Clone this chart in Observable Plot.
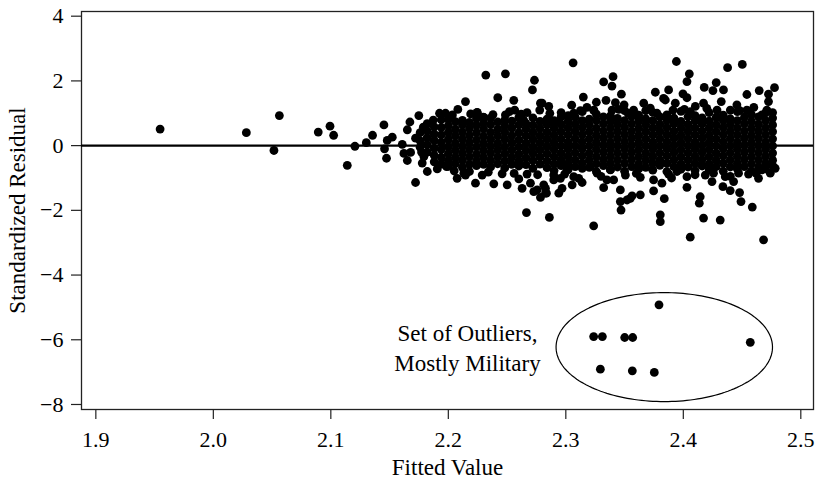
<!DOCTYPE html>
<html>
<head>
<meta charset="utf-8">
<script src="https://cdn.jsdelivr.net/npm/d3@7"></script>
<script src="https://cdn.jsdelivr.net/npm/@observablehq/plot@0.6"></script>
<style>
  body { margin: 0; background: #fff; }
  #chart svg { display: block; }
  #chart svg text { font-family: 'Liberation Serif', 'Times New Roman', Times, serif !important; }
</style>
</head>
<body>
<div id="chart"></div>
<script>
// ---- data (fitted value, standardized residual) ----
const leftTail = [
  [1.9547,0.51],[2.0281,0.40],[2.0562,0.93],[2.0516,-0.15],[2.0893,0.42],[2.0993,0.60],
  [2.1024,0.32],[2.1140,-0.61],[2.1205,-0.02],[2.1302,0.09],[2.1355,0.32],[2.1452,0.64],
  [2.1457,-0.10],[2.1474,-0.39],[2.1480,0.16],[2.1523,0.26],[2.1608,0.04],[2.1673,0.73],
  [2.1651,0.49],[2.1749,0.93],[2.1787,0.57],[2.1721,0.23],[2.1622,-0.24],[2.1679,-0.21],
  [2.1651,-0.46],[2.1721,-1.14],[2.1778,-0.54],[2.1821,-0.80],[2.1906,-0.72],[2.1925,1.00],
  [2.1872,0.79],[2.1792,-0.34],[2.1772,-0.20]
];
const upperScatter = [
  [2.2081,1.12],[2.2146,1.36],[2.2246,1.02],[2.2302,0.87],[2.2319,2.18],[2.2486,2.22],
  [2.2421,1.48],[2.2557,1.40],[2.2565,1.10],[2.2486,0.95],[2.2733,2.02],[2.2716,1.72],
  [2.2784,1.31],[2.2778,1.10],[2.2855,1.21],[2.2864,1.00],[2.2670,1.02],[2.2883,0.76],
  [2.2641,0.79],[2.2939,0.74],[2.3062,2.56],[2.3322,1.97],[2.3402,2.13],[2.3393,1.84],
  [2.3149,1.50],[2.3260,1.34],[2.3050,1.25],[2.3124,1.08],[2.3342,1.40],[2.3422,1.33],
  [2.3473,1.59],[2.3496,1.26],[2.3577,1.10],[2.3240,1.08],[2.2245,1.03],[2.2297,0.88],
  [2.1976,1.00],[2.3941,2.60],[2.4051,2.22],[2.4031,1.98],[2.4377,2.41],[2.4502,2.51],
  [2.3762,1.65],[2.3875,1.72],[2.3832,1.46],[2.3997,1.60],[2.4031,1.48],[2.4178,1.80],
  [2.4280,1.95],[2.4252,1.70],[2.4342,1.72],[2.4323,1.36],[2.4541,1.58],[2.4646,1.70],
  [2.4776,1.79],[2.4725,1.59],[2.4725,1.36],[2.4711,1.10],[2.4456,1.26],[2.4172,1.31],
  [2.4102,1.21],[2.3663,1.31],[2.3932,1.31],[2.3067,1.00],[2.3237,1.10],[2.3393,1.10],
  [2.3606,0.95],[2.3719,1.16],[2.3776,1.00],[2.3847,1.41],[2.3912,1.10],[2.4009,1.12],
  [2.4287,1.10],[2.4400,1.10],[2.4541,1.10],[2.4669,0.95],[2.2798,1.31],
  [2.2035,0.95],[2.2190,0.98],[2.2380,0.96],[2.2520,1.05],[2.2620,0.97],[2.2960,1.02],
  [2.3180,1.18],[2.3450,1.12],[2.3530,1.00],[2.3680,1.08],[2.4060,1.05],[2.4200,1.15],
  [2.4480,1.08],[2.4600,1.18],[2.4760,1.02]
];
const lowerScatter = [
  [2.1985,-0.65],[2.2075,-1.01],[2.2146,-0.91],[2.2132,-0.85],[2.2231,-1.16],[2.2288,-0.91],
  [2.2387,-1.18],[2.2501,-1.21],[2.2458,-0.87],[2.2600,-1.03],[2.2628,-1.32],[2.2665,-2.07],
  [2.2699,-1.16],[2.2727,-1.42],[2.2756,-1.37],[2.2784,-1.60],[2.2835,-1.47],[2.2860,-2.22],
  [2.2940,-1.47],[2.2954,-1.01],[2.3011,-0.75],[2.3054,-1.21],[2.3110,-1.01],[2.3139,-1.14],
  [2.3237,-2.48],[2.3266,-0.85],[2.3322,-1.30],[2.3350,-1.06],[2.3379,-0.75],[2.3407,-1.06],
  [2.3464,-1.37],[2.3464,-1.73],[2.3470,-1.99],[2.3521,-1.68],[2.3549,-1.63],[2.3564,-1.55],
  [2.3634,-1.52],[2.3747,-1.40],[2.3838,-1.64],[2.3804,-2.14],[2.3804,-2.35],[2.3818,-1.16],
  [2.4031,-1.29],[2.4059,-2.83],[2.4144,-1.58],[2.4136,-1.78],[2.4172,-2.24],[2.4314,-2.30],
  [2.4244,-1.11],[2.4337,-1.27],[2.4399,-1.39],[2.4428,-1.11],[2.4479,-1.45],[2.4491,-1.73],
  [2.4587,-1.90],[2.4683,-2.91],[2.4640,-1.01],[2.4555,-0.88],[2.4740,-0.85],[2.4782,-0.70],
  [2.4257,-0.85],[2.4187,-0.91],[2.4031,-0.96],[2.3946,-0.80],[2.3875,-0.88],[2.3747,-1.06],
  [2.3634,-0.98],[2.3507,-0.91],[2.4357,-0.96],[2.4470,-0.85],[2.4669,-0.75],[2.2827,-1.32],
  [2.2897,-1.06],[2.2827,-1.47],[2.2812,-1.21],[2.2897,-0.91],[2.2968,-1.32],[2.3067,-0.96],
  [2.3209,-0.65],[2.2670,-0.88],
  [2.2050,-0.78],[2.2180,-0.80],[2.2340,-0.82],[2.2560,-0.86],[2.2760,-0.90],[2.2990,-0.88],
  [2.3300,-0.95],[2.3600,-0.86],[2.3900,-1.00],[2.4100,-0.90],[2.4400,-0.95],[2.4620,-0.86]
];
// dense core of the cloud: [fitted, residuals stacked at that fitted value]
const coreColumns = [
  [2.176,[0.40,0.15,-0.05]],
  [2.182,[0.68,0.46,0.25,0.03,-0.20]],
  [2.188,[0.58,0.36,0.16,-0.08,-0.30,-0.50]],
  [2.194,[0.80,0.56,0.33,0.10,-0.12,-0.36,-0.57]],
  [2.200,[0.82,0.62,0.41,0.19,-0.03,-0.25,-0.46,-0.64]],
  [2.206,[0.74,0.51,0.30,0.08,-0.14,-0.36,-0.56]],
  [2.212,[0.78,0.64,0.42,0.20,-0.02,-0.24,-0.45,-0.67]],
  [2.218,[0.72,0.53,0.31,0.09,-0.13,-0.35,-0.57]],
  [2.224,[0.84,0.63,0.40,0.18,-0.04,-0.26,-0.47,-0.62]],
  [2.230,[0.70,0.52,0.29,0.07,-0.15,-0.36,-0.58]],
  [2.236,[0.85,0.65,0.41,0.19,-0.02,-0.23,-0.46,-0.66]],
  [2.242,[0.73,0.51,0.30,0.08,-0.13,-0.35,-0.56]],
  [2.248,[0.79,0.62,0.42,0.20,-0.03,-0.25,-0.47,-0.69]],
  [2.254,[0.76,0.54,0.31,0.09,-0.14,-0.36,-0.58]],
  [2.260,[0.87,0.64,0.40,0.18,-0.04,-0.26,-0.48,-0.63]],
  [2.266,[0.69,0.52,0.30,0.08,-0.15,-0.37,-0.59]],
  [2.272,[0.86,0.63,0.41,0.19,-0.03,-0.24,-0.46,-0.70]],
  [2.278,[0.75,0.53,0.31,0.09,-0.13,-0.35,-0.57]],
  [2.284,[0.82,0.65,0.42,0.20,-0.02,-0.25,-0.47,-0.68]],
  [2.290,[0.77,0.54,0.32,0.10,-0.12,-0.34,-0.56,-0.77]],
  [2.296,[0.89,0.66,0.43,0.21,-0.01,-0.23,-0.45,-0.62]],
  [2.302,[0.93,0.76,0.55,0.33,0.11,-0.11,-0.33,-0.55,-0.74]],
  [2.308,[0.88,0.66,0.44,0.22,0.00,-0.22,-0.44,-0.65]],
  [2.314,[1.05,0.77,0.56,0.34,0.12,-0.10,-0.32,-0.54,-0.70]],
  [2.320,[0.82,0.65,0.43,0.21,-0.01,-0.23,-0.45,-0.67]],
  [2.326,[0.97,0.78,0.54,0.32,0.10,-0.12,-0.34,-0.56,-0.80]],
  [2.332,[0.89,0.67,0.45,0.23,0.01,-0.21,-0.43,-0.62]],
  [2.338,[0.92,0.75,0.55,0.33,0.11,-0.11,-0.33,-0.55,-0.74]],
  [2.344,[0.84,0.66,0.44,0.22,0.00,-0.22,-0.44,-0.66]],
  [2.350,[1.08,0.77,0.56,0.34,0.12,-0.10,-0.32,-0.54,-0.79]],
  [2.356,[0.90,0.67,0.45,0.23,0.01,-0.21,-0.43,-0.65]],
  [2.362,[0.94,0.76,0.54,0.32,0.10,-0.12,-0.34,-0.56,-0.72]],
  [2.368,[0.83,0.65,0.43,0.21,-0.01,-0.23,-0.45,-0.67]],
  [2.374,[1.03,0.77,0.55,0.33,0.11,-0.11,-0.33,-0.55,-0.76]],
  [2.380,[0.89,0.66,0.44,0.22,0.00,-0.22,-0.44,-0.61]],
  [2.386,[0.95,0.78,0.56,0.34,0.12,-0.10,-0.32,-0.54,-0.80]],
  [2.392,[0.85,0.67,0.45,0.23,0.01,-0.21,-0.43,-0.65]],
  [2.398,[1.06,0.75,0.54,0.32,0.10,-0.12,-0.34,-0.56,-0.73]],
  [2.404,[0.90,0.66,0.44,0.22,0.00,-0.22,-0.44,-0.66]],
  [2.410,[0.93,0.77,0.55,0.33,0.11,-0.11,-0.33,-0.55,-0.77]],
  [2.416,[0.86,0.67,0.45,0.23,0.01,-0.21,-0.43,-0.63]],
  [2.422,[1.02,0.76,0.54,0.32,0.10,-0.12,-0.34,-0.56,-0.75]],
  [2.428,[0.87,0.65,0.43,0.21,-0.01,-0.23,-0.45,-0.65]],
  [2.434,[0.94,0.78,0.56,0.34,0.12,-0.10,-0.32,-0.54,-0.79]],
  [2.440,[0.83,0.66,0.44,0.22,0.00,-0.22,-0.44,-0.66]],
  [2.446,[1.05,0.77,0.55,0.33,0.11,-0.11,-0.33,-0.55,-0.72]],
  [2.452,[0.88,0.67,0.45,0.23,0.01,-0.21,-0.43,-0.65]],
  [2.458,[0.96,0.75,0.54,0.32,0.10,-0.12,-0.34,-0.56,-0.78]],
  [2.464,[0.89,0.66,0.44,0.22,0.00,-0.22,-0.44,-0.66]],
  [2.470,[1.01,0.77,0.55,0.33,0.11,-0.11,-0.33,-0.55,-0.72]],
  [2.476,[0.85,0.64,0.43,0.21,-0.01,-0.23,-0.45,-0.62]]
];
const outliers = [
  [2.3793,-4.92],[2.3237,-5.90],[2.3311,-5.90],[2.3501,-5.93],[2.3569,-5.93],
  [2.4570,-6.08],[2.3294,-6.91],[2.3566,-6.96],[2.3753,-7.01]
];
const ellipseCenter = [2.3838, -6.227];
const ellipseRadii = [0.0921, 1.684];
const noteLines = ["Set of Outliers,", "Mostly Military"];
const xTicks = [1.9, 2.0, 2.1, 2.2, 2.3, 2.4, 2.5];
const yTicks = [-8, -6, -4, -2, 0, 2, 4];
const xLabel = "Fitted Value";
const yLabel = "Standardized Residual";

// ---- build tables ----
const toRow = ([fitted, residual]) => ({fitted, residual});
const points = [
  ...leftTail.map(toRow),
  ...coreColumns.flatMap(([f, rs]) => rs.map(r => ({fitted: f, residual: r}))),
  ...upperScatter.map(toRow),
  ...lowerScatter.map(toRow),
  ...outliers.map(toRow)
];
const ellipse = d3.range(0, 361, 2).map(a => {
  const t = a * Math.PI / 180;
  return {x: ellipseCenter[0] + ellipseRadii[0] * Math.cos(t),
          y: ellipseCenter[1] + ellipseRadii[1] * Math.sin(t)};
});

const serif = "'Liberation Serif', 'Times New Roman', Times, serif";
const chart = Plot.plot({
  width: 817,
  height: 480,
  marginLeft: 81,
  marginRight: 4,
  marginTop: 11,
  marginBottom: 71,
  style: {fontFamily: serif, fontSize: "22px", color: "#000", background: "#fff"},
  x: {domain: [1.8878, 2.5108]},
  y: {domain: [-8.155, 4.145]},
  marks: [
    Plot.frame({stroke: "#222", strokeWidth: 1.3}),
    Plot.ruleY([0], {stroke: "#000", strokeWidth: 2.2}),
    Plot.dot(points, {x: "fitted", y: "residual", r: 4.4, fill: "#000", stroke: "none"}),
    Plot.line(ellipse, {x: "x", y: "y", stroke: "#000", strokeWidth: 1.2, curve: "linear"}),
    Plot.axisX(xTicks, {tickFormat: d3.format(".1f"), tickSize: 10, tickPadding: 12, fontSize: 22, fontFamily: serif, label: null, stroke: "#222", strokeWidth: 1.2}),
    Plot.axisY(yTicks, {tickFormat: d3.format("d"), tickSize: 10, tickPadding: 8, fontSize: 22, fontFamily: serif, label: null, stroke: "#222", strokeWidth: 1.2}),
    Plot.text([noteLines.join("\n")], {x: 2.2163, y: -6.98, text: d => d, lineAnchor: "bottom", lineHeight: 1.31, textAnchor: "middle", fontSize: 23, fontFamily: serif, fill: "#000"}),
    Plot.text([xLabel], {frameAnchor: "bottom", text: d => d, textAnchor: "middle", lineAnchor: "bottom", dy: 65.5, fontSize: 23, fontFamily: serif, fill: "#000"}),
    Plot.text([yLabel], {frameAnchor: "left", text: d => d, rotate: -90, textAnchor: "middle", lineAnchor: "bottom", dx: -57, fontSize: 23, fontFamily: serif, fill: "#000"})
  ]
});
document.getElementById("chart").appendChild(chart);
</script>
</body>
</html>
